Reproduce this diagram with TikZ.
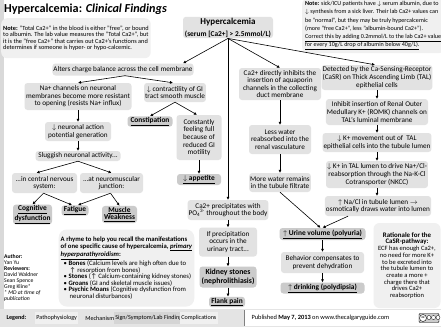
\documentclass[tikz,border=0pt]{standalone}
\usepackage{fontspec}
\setmainfont{Carlito}
\usetikzlibrary{arrows.meta}
\definecolor{mechgray}{HTML}{E2E2E2}
\definecolor{signgray}{HTML}{CBCBCB}
\definecolor{notegray}{HTML}{F0F0F0}
\definecolor{framegray}{HTML}{D9D9D9}
\definecolor{footgray}{HTML}{E4E4E4}
\newcommand{\fs}[2]{\fontsize{#1}{#2}\selectfont}
\begin{document}
\begin{tikzpicture}[x=1pt,y=-1pt,
  box/.style={rounded corners=3pt, align=center, inner sep=1pt},
  mech/.style={box, fill=mechgray, font=\fs{7.2}{7.6}},
  sign/.style={box, fill=signgray, font=\fs{7.4}{7.8}\bfseries},
  note/.style={rounded corners=6pt, fill=notegray, inner sep=2pt},
  legbox/.style={anchor=west, inner sep=1.2pt, minimum height=12pt, font=\fs{6.1}{7}},
  wh/.style 2 args={minimum width=#1pt, minimum height=#2pt},
  arr/.style={-{Latex[length=3pt,width=3pt]}, line width=0.6pt}]
\useasboundingbox (0,0) rectangle (441,327);
% page frame and footer band
\fill[white] (0,0) rectangle (441,327);
\fill[framegray] (0,0) rectangle (4,309);
\fill[footgray] (0,309) rectangle (441,327);

% title and notes
\node[anchor=west, inner sep=0pt, font=\fs{12.2}{14}\bfseries] (title) at (4,9) {Hypercalcemia: \textit{Clinical Findings}};
\node[note, anchor=north west, wh={133}{40}, align=left, font=\fs{6.3}{6.2}] (noteL) at (1,18)
 {\textbf{Note:} "Total Ca2+" in the blood is either "free", or bound\\to albumin. The lab value measures the "Total Ca2+", but\\it is the "free Ca2+" that carries out Ca2+'s functions and\\determines if someone is hyper- or hypo-calcemic.};
\node[note, anchor=north west, wh={142}{55}, align=left, font=\fs{6.1}{8.2}] (noteR) at (302,-2)
 {\textbf{Note:} sick/ICU patients have $\downarrow$ serum albumin, due to\\$\downarrow$ synthesis from a sick liver. Their lab Ca2+ values can\\be "normal", but they may be truly hypercalcemic\\(more "free Ca2+", less "albumin-bound Ca2+").\\\underline{Correct this by adding 0.2mmol/L to the lab Ca2+ value}\\\underline{for every 10g/L drop of albumin below 40g/L).}};

% root
\node[box, fill=mechgray, wh={90}{21}] (hyper) at (228,27.5)
 {{\fs{9}{9.5}\bfseries Hypercalcemia}\\{\fs{7.4}{9}\bfseries (serum [Ca2+] > 2.5mmol/L)}};

% neuronal branch
\node[mech, wh={140}{12}] (alters) at (123,69.5) {Alters charge balance across the cell membrane};
\node[mech, wh={107}{27}] (na) at (78,96.5) {Na+ channels on neuronal\\membranes become more resistant\\to opening (resists Na+ influx)};
\node[mech, wh={66}{19}] (nap) at (78,131.5) {$\downarrow$ neuronal action\\potential generation};
\node[mech, wh={85}{10}] (slug) at (78,156) {Sluggish neuronal activity...};
\node[mech, wh={65}{20}] (cns) at (44.5,183) {...in central nervous\\system:};
\node[mech, wh={63}{20}] (nmj) at (111.5,183) {...at neuromuscular\\junction:};
\node[sign, wh={39}{17}] (cog) at (32.5,214.5) {\underline{Cognitive}\\\underline{dysfunction}};
\node[sign, wh={27}{9}] (fat) at (75,210.5) {\underline{Fatigue}};
\node[sign, wh={35}{17}] (mw) at (119.5,214.5) {\underline{Muscle}\\\underline{Weakness}};

% GI branch
\node[mech, wh={60}{19}] (gi) at (175,92.5) {$\downarrow$ contractility of GI\\tract smooth muscle};
\node[sign, wh={45}{10}] (const) at (150,121.5) {\underline{Constipation}};
\node[mech, wh={45}{45}] (full) at (199,137.5) {Constantly\\feeling full\\because of\\reduced GI\\motility};
\node[sign, wh={44}{11}] (app) at (199,179.5) {\underline{$\downarrow$ appetite}};

% precipitation branch
\node[mech, wh={77}{20}] (precip) at (228,210) {Ca2+ precipitates with\\PO\textsubscript{4}\textsuperscript{3-} throughout the body};
\node[mech, wh={58}{29}] (uri) at (228,242) {If precipitation\\occurs in the\\urinary tract...};
\node[sign, wh={57}{21}, font=\fs{7.8}{8.6}\bfseries] (kid) at (228,277) {Kidney stones\\(nephrolithiasis)};
\node[sign, wh={36}{10}] (flank) at (227,302) {\underline{Flank pain}};

% aquaporin branch
\node[mech, wh={82}{32}] (aqua) at (280,84) {Ca2+ directly inhibits the\\insertion of aquaporin\\channels in the collecting\\duct membrane};
\node[mech, wh={62}{29}] (lessw) at (280,139.5) {Less water\\reabsorbed into the\\renal vasculature};
\node[mech, wh={60}{19}] (morew) at (280,182.5) {More water remains\\in the tubule filtrate};

% CaSR branch
\node[mech, wh={107}{25}] (casr) at (377,77.5) {Detected by the Ca-Sensing-Receptor\\(CaSR) on Thick Ascending Limb (TAL)\\epithelial cells};
\node[mech, wh={100}{26}] (romk) at (377,112) {Inhibit insertion of Renal Outer\\Medullary K+ (ROMK) channels on\\TAL's luminal membrane};
\node[mech, wh={104}{19}] (kmov) at (377,142.5) {$\downarrow$ K+ movement out of\ \ TAL\\epithelial cells into the tubule lumen};
\node[mech, wh={101}{27}] (ktal) at (377,174.5) {$\downarrow$ K+ in TAL lumen to drive Na+/Cl-\\reabsorption through the Na-K-Cl\\Cotransporter (NKCC)};
\node[mech, wh={99}{20}] (nacl) at (378,206) {$\uparrow$ Na/Cl in tubule lumen $\rightarrow$\\osmotically draws water into lumen};

% urine output
\node[sign, wh={86}{12}] (urine) at (322.5,234) {\underline{$\uparrow$ Urine volume (polyuria)}};
\node[mech, wh={83}{21}] (behav) at (322.5,262.5) {Behavior compensates to\\prevent dehydration};
\node[sign, wh={84}{11}] (drink) at (322.5,288) {\underline{$\uparrow$ drinking (polydipsia)}};

% side boxes
\node[note, wh={67}{85}, align=center, font=\fs{6.5}{6.7}] (rat) at (407,265.5)
 {\textbf{\fs{6.9}{7}Rationale for the}\\\textbf{\fs{6.9}{7}CaSR-pathway:}\\ECF has enough Ca2+,\\no need for more K+\\to be excreted into\\the tubule lumen to\\create a more +\\charge there that\\drives Ca2+\\reabsorption};
\node[note, rounded corners=8pt, wh={134}{77}, align=left, font=\fs{6.7}{6.5}] (rhyme) at (126.5,268)
 {\textbf{A rhyme to help you recall the manifestations}\\\textbf{of one specific cause of hypercalcemia, \underline{\textit{primary}}}\\\textbf{\underline{\textit{hyperparathyroidism}}:}\\\hspace*{3pt}\textbullet\ \textbf{Bones} (Calcium levels are high often due to\\\hspace*{9pt}\textuparrow\ resorption from bones)\\\hspace*{3pt}\textbullet\ \textbf{Stones} (\textuparrow\ Calcium-containing kidney stones)\\\hspace*{3pt}\textbullet\ \textbf{Groans} (GI and skeletal muscle issues)\\\hspace*{3pt}\textbullet\ \textbf{Psychic Moans} (Cognitive dysfunction from\\\hspace*{9pt}neuronal disturbances)};
\node[anchor=north west, align=left, inner sep=1pt, font=\fs{5.7}{6}] (auth) at (3,253)
 {\textbf{Author:}\\Yan Yu\\\textbf{Reviewers:}\\David Waldner\\Sean Spence\\Greg Kline*\\\textit{* MD at time of}\\\textit{publication}};

% connectors
\draw[arr] (hyper.south) -- ([xshift=60pt]alters.north);
\draw[arr] (hyper.south) -- (precip.north);
\draw[arr] (hyper.south) -- (aqua.north);
\draw[arr] (hyper.south) -- ([xshift=-2pt]casr.north);
\draw[arr] ([xshift=2pt]alters.south) -- (na.north);
\draw[arr] ([xshift=2pt]alters.south) -- ([xshift=-2pt]gi.north);
\draw[arr] (na.south) -- (nap.north);
\draw[arr] (nap.south) -- (slug.north);
\draw[arr] (slug.south) -- ([xshift=-8pt]cns.north);
\draw[arr] (slug.south) -- (nmj.north);
\draw[arr] ([xshift=-1pt]cns.south) -- (cog.north);
\draw[arr] ([xshift=-1pt]cns.south) -- ([xshift=-3pt]fat.north);
\draw[arr] ([xshift=-1pt]nmj.south) -- ([xshift=3pt]fat.north);
\draw[arr] ([xshift=-1pt]nmj.south) -- (mw.north);
\draw[arr] (gi.south) -- (const.north);
\draw[arr] (gi.south) -- ([xshift=-2pt]full.north);
\draw[arr] (full.south) -- (app.north);
\draw[arr] (precip.south) -- (uri.north);
\draw[arr] (uri.south) -- (kid.north);
\draw[arr] (kid.south) -- (kid.south |- flank.north);
\draw[arr] (aqua.south) -- (lessw.north);
\draw[arr] (lessw.south) -- (morew.north);
\draw[arr] (casr.south) -- (romk.north);
\draw[arr] (romk.south) -- (kmov.north);
\draw[arr] (kmov.south) -- (ktal.north);
\draw[arr] (ktal.south) -- (ktal.south |- nacl.north);
\draw[arr] (morew.south) -- ([xshift=-2pt]urine.north);
\draw[arr] ([xshift=-30pt]nacl.south) -- (urine.north);
\draw[arr] (urine.south) -- (behav.north);
\draw[arr] (behav.south) -- (drink.north);

% footer legend
\node[anchor=west, font=\fs{6.1}{7}\bfseries] (leg) at (3,318) {Legend:};
\node[legbox, fill=notegray] (lp) at (35,318) {Pathophysiology};
\node[legbox, fill=footgray] (lm) at (84,318) {Mechanism};
\node[legbox, fill=signgray!80] (ls) at (114,318) {Sign/Symptom/Lab Finding};
\node[legbox, fill=notegray] (lc) at (180,318) {Complications};
\fill[white] (244,310) rectangle (441,326);
\draw[line width=0.5pt, gray] (244,310) -- (244,326);
\node[anchor=west, font=\fs{6.4}{7}] (pub) at (248,318) {Published \textbf{May 7, 2013} on www.thecalgaryguide.com};
% licence badge
\node[draw=black, line width=0.4pt, fill=gray!40, rounded corners=1pt, minimum width=20pt, minimum height=9pt, inner sep=0pt] (cc) at (429,318) {};
\node[draw=black, fill=white, circle, line width=0.4pt, inner sep=0pt, minimum size=7pt, font=\fs{3.6}{4}\bfseries] (ccl) at (423,318) {cc};
\node[draw=black, fill=white, circle, line width=0.3pt, inner sep=0pt, minimum size=4pt] (cc1) at (429,317.5) {};
\node[draw=black, fill=white, circle, line width=0.3pt, inner sep=0pt, minimum size=4pt] (cc2) at (433.5,317.5) {};
\node[draw=black, fill=white, circle, line width=0.3pt, inner sep=0pt, minimum size=4pt] (cc3) at (438,317.5) {};
\end{tikzpicture}
\end{document}
